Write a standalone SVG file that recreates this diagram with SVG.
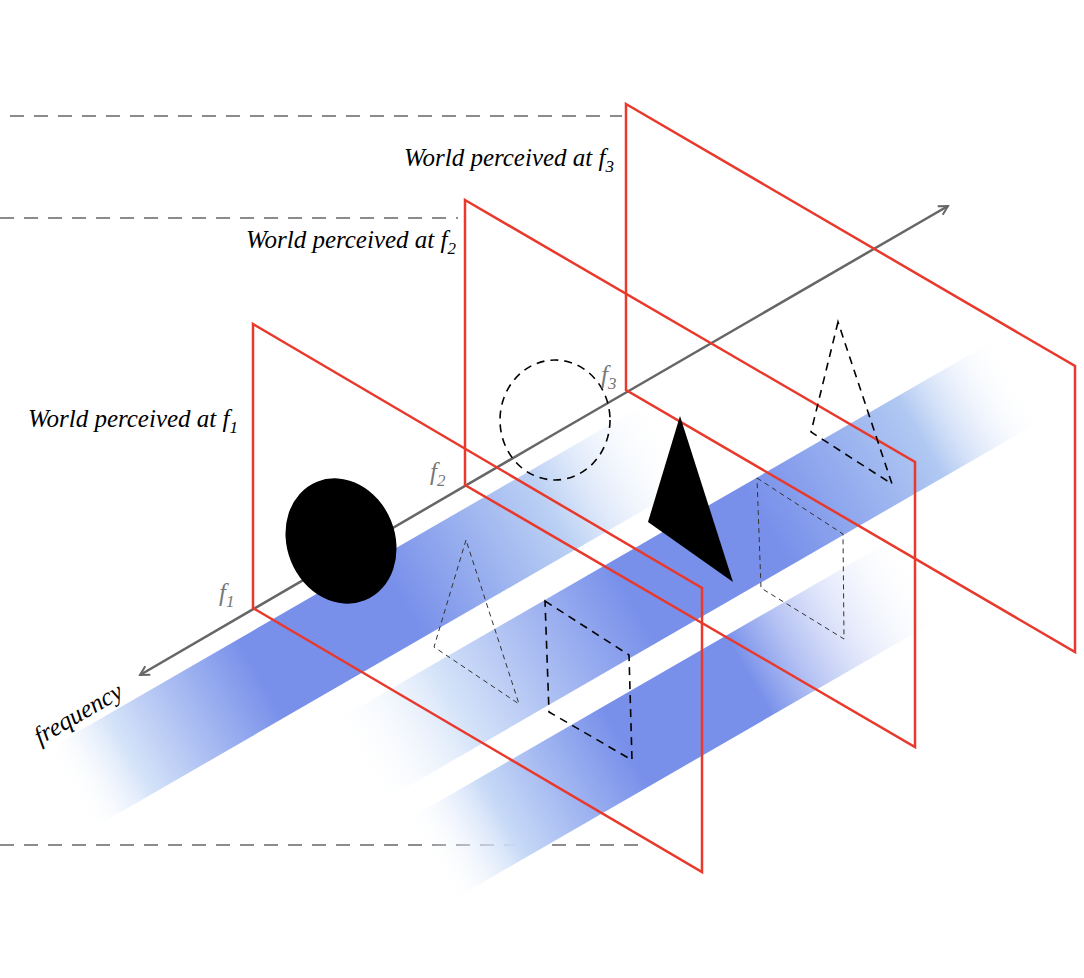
<svg xmlns="http://www.w3.org/2000/svg" width="1084" height="978" viewBox="0 0 1084 978">
<defs>
<linearGradient id="g1" x1="0" y1="0" x2="1" y2="0">
<stop offset="0" stop-color="#ffffff" stop-opacity="0"/>
<stop offset="0.1" stop-color="#d6e4f9"/>
<stop offset="0.32" stop-color="#7890ea"/>
<stop offset="0.55" stop-color="#7890ea"/>
<stop offset="0.8" stop-color="#bcd1f4"/>
<stop offset="1" stop-color="#ffffff" stop-opacity="0"/>
</linearGradient>
<linearGradient id="g2" x1="0" y1="0" x2="1" y2="0">
<stop offset="0" stop-color="#ffffff" stop-opacity="0"/>
<stop offset="0.15" stop-color="#d6e4f9"/>
<stop offset="0.42" stop-color="#7890ea"/>
<stop offset="0.62" stop-color="#7890ea"/>
<stop offset="0.85" stop-color="#b0c8f2"/>
<stop offset="1" stop-color="#ffffff" stop-opacity="0"/>
</linearGradient>
<linearGradient id="g3" x1="0" y1="0" x2="1" y2="0">
<stop offset="0" stop-color="#ffffff" stop-opacity="0"/>
<stop offset="0.15" stop-color="#c8daf7"/>
<stop offset="0.4" stop-color="#7890ea"/>
<stop offset="0.65" stop-color="#7890ea"/>
<stop offset="1" stop-color="#ffffff" stop-opacity="0"/>
</linearGradient>
<marker id="arr" viewBox="0 0 12 12" refX="10" refY="6" markerWidth="12" markerHeight="12" markerUnits="userSpaceOnUse" orient="auto">
<path d="M1,1 L10,6 L1,11" fill="none" stroke="#666" stroke-width="2"/>
</marker>
</defs>
<style>
.guide{stroke:#8c8c8c;stroke-width:2.2;stroke-dasharray:14 10;fill:none}
.frame{fill:none;stroke:#e8392c;stroke-width:2.5}
.lbl{font-family:"Liberation Serif",serif;font-style:italic;font-size:25px;fill:#000}
.f{font-family:"Liberation Serif",serif;font-style:italic;font-size:25px;fill:#777}
.sub{font-size:17px}
.d1{fill:none;stroke:#000;stroke-width:1.6;stroke-dasharray:8 6}
.d2{fill:none;stroke:#333;stroke-width:1;stroke-dasharray:5 4}
</style>
<g id="guides">
<line class="guide" x1="10" y1="116" x2="622" y2="116"/>
<line class="guide" x1="0" y1="218" x2="458" y2="218"/>
<line class="guide" x1="0" y1="845" x2="645" y2="845"/>
</g>
<g id="bands">
<g transform="translate(44.5,751) rotate(-30)"><rect x="0" y="0" width="700" height="91" fill="url(#g1)"/></g>
<g transform="translate(330,724) rotate(-30)"><rect x="0" y="0" width="770" height="93" fill="url(#g2)"/></g>
<g transform="translate(405,821) rotate(-30)"><rect x="0" y="0" width="570" height="92" fill="url(#g3)"/></g>
</g>
<g id="connectors">
<line x1="544" y1="440" x2="140" y2="675" stroke="#666" stroke-width="2.5" marker-end="url(#arr)"/>
<line x1="544" y1="440" x2="948" y2="206" stroke="#666" stroke-width="2.5" marker-end="url(#arr)"/>
</g>
<g id="frame3"><polygon class="frame" points="626,104 1075,366 1075,652 626,390"/></g>
<g id="frame2"><polygon class="frame" points="465,200 915,462 915,747 465,485"/></g>
<g id="frame1"><polygon class="frame" points="253,324 702,588 702,872 253,608"/></g>
<g id="shapes">
<ellipse cx="341" cy="541" rx="54" ry="64" transform="rotate(-22,341,541)" fill="#000"/>
<ellipse cx="555" cy="420" rx="55" ry="60" class="d1"/>
<polygon points="680,416 648,522 733,582" fill="#000"/>
<polygon class="d1" points="838,322 811,432 892,484"/>
<polygon class="d2" points="757,478 843,534 844,639 761,588"/>
<polygon class="d1" points="545,601 629,655 632,760 549,712"/>
<polygon class="d2" points="466,540 434,647 519,704"/>
</g>
<g id="labels">
<text class="lbl" x="614" y="166" text-anchor="end">World perceived at f<tspan class="sub" dy="6">3</tspan></text>
<text class="lbl" x="456" y="248" text-anchor="end">World perceived at f<tspan class="sub" dy="6">2</tspan></text>
<text class="lbl" x="238" y="427" text-anchor="end">World perceived at f<tspan class="sub" dy="6">1</tspan></text>
<text class="f" x="219" y="601">f<tspan class="sub" dy="6">1</tspan></text>
<text class="f" x="430" y="480">f<tspan class="sub" dy="6">2</tspan></text>
<text class="f" x="601" y="383">f<tspan class="sub" dy="6">3</tspan></text>
<text class="lbl" x="0" y="0" transform="translate(40,745) rotate(-30)">frequency</text>
</g>
</svg>
